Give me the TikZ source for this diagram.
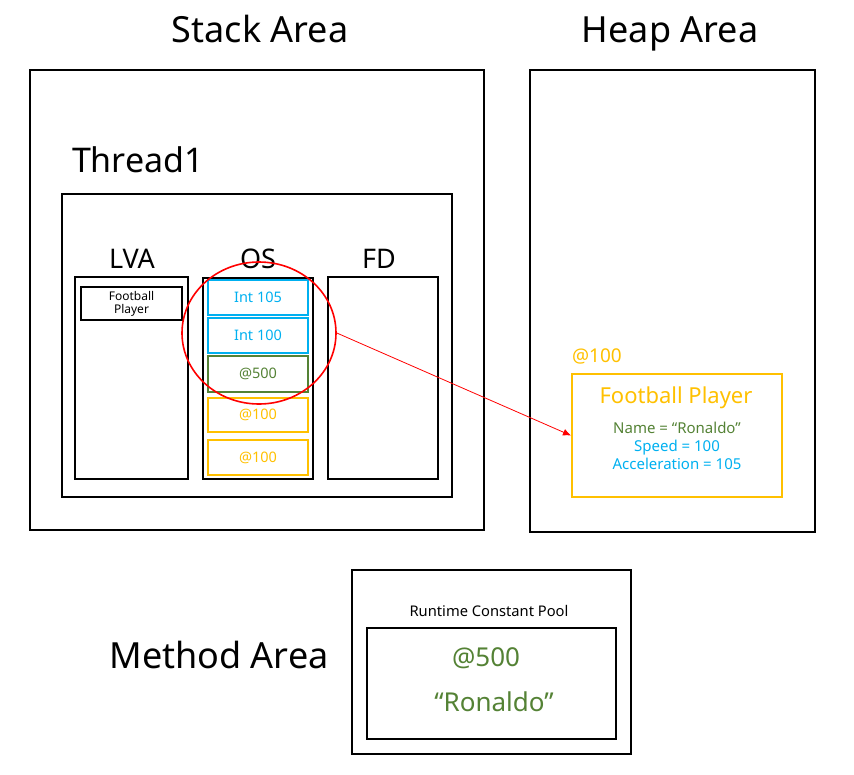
\documentclass[tikz,border=0pt]{standalone}
\usepackage{fontspec}
\setmainfont{Noto Sans}
\definecolor{cyanb}{HTML}{00B0F0}
\definecolor{greenb}{HTML}{548235}
\definecolor{orangeb}{HTML}{FFC000}
\usetikzlibrary{arrows.meta,shapes.geometric}
\begin{document}
\begin{tikzpicture}[x=1pt,y=-1pt,
  blk/.style={draw=black,line width=2pt,inner sep=0pt},
  cell/.style={draw,line width=2pt,minimum width=100pt,inner sep=0pt,font=\fontsize{14.5}{16}\selectfont},
  title/.style={inner sep=0pt,anchor=base,font=\fontsize{36}{40}\selectfont},
  sub/.style={inner sep=0pt,anchor=base,font=\fontsize{27}{30}\selectfont}]
\useasboundingbox (0,0) rectangle (854,774);
% Stack
\node[title] (stackT) at (260,42) {Stack Area};
\node[blk,minimum width=454pt,minimum height=460pt] (stack) at (257,300) {};
\node[title,font=\fontsize{34}{38}\selectfont] (thT) at (138,172) {Thread1};
\node[blk,minimum width=390pt,minimum height=303pt] (thread) at (257,345.5) {};
\node[sub] (lvaT) at (132,268) {LVA};
\node[blk,minimum width=113pt,minimum height=202pt] (lva) at (131.5,378) {};
\node[blk,minimum width=101pt,minimum height=33pt,align=center,font=\fontsize{12}{13}\selectfont] (fpS) at (131.5,303.5) {Football\\Player};
\node[sub] (osT) at (258,268) {OS};
\node[blk,minimum width=110pt,minimum height=201pt] (os) at (258,378.5) {};
\node[cell,draw=cyanb,text=cyanb,minimum height=35pt] (c1) at (258,297.5) {Int 105};
\node[cell,draw=cyanb,text=cyanb,minimum height=35pt] (c2) at (258,335.5) {Int 100};
\node[cell,draw=greenb,text=greenb,minimum height=36pt] (c3) at (258,374) {@500};
\node[cell,draw=orangeb,text=orangeb,minimum height=34pt] (c4) at (258,415) {@100};
\node[cell,draw=orangeb,text=orangeb,minimum height=35pt] (c5) at (258,457.5) {@100};
\node[sub] (fdT) at (379,268) {FD};
\node[blk,minimum width=110pt,minimum height=202pt] (fd) at (383,378) {};
\node[draw=red,line width=1.6pt,ellipse,minimum width=154pt,minimum height=142pt,inner sep=0pt] (circ) at (259,333) {};
% Heap
\node[title] (heapT) at (670,42) {Heap Area};
\node[blk,minimum width=285pt,minimum height=462pt] (heap) at (672.5,301) {};
\node[inner sep=0pt,text=orangeb,font=\fontsize{19}{22}\selectfont] (addr) at (597,356) {@100};
\node[draw=orangeb,line width=2pt,minimum width=210pt,minimum height=123pt,inner sep=0pt] (obj) at (677,435.5) {};
\node[inner sep=0pt,text=orangeb,font=\fontsize{22}{26}\selectfont] (objT) at (676,398) {Football Player};
\node[inner sep=0pt,align=center,font=\fontsize{15}{18}\selectfont] (objF) at (677,446) {\textcolor{greenb}{Name = “Ronaldo”}\\\textcolor{cyanb}{Speed = 100}\\\textcolor{cyanb}{Acceleration = 105}};
\draw[red,line width=0.8pt,-{Latex[length=8pt,width=7pt]}] (circ.east) -- (obj.west);
% Method
\node[title] (methT) at (219,668) {Method Area};
\node[blk,minimum width=279pt,minimum height=184pt] (meth) at (491.5,662) {};
\node[inner sep=0pt,font=\fontsize{14.7}{16}\selectfont] (rcpT) at (489,611) {Runtime Constant Pool};
\node[blk,minimum width=249pt,minimum height=111pt] (rcp) at (491.5,683.5) {};
\node[inner sep=0pt,text=greenb,font=\fontsize{26}{30}\selectfont] (r1) at (486,658) {@500};
\node[inner sep=0pt,text=greenb,font=\fontsize{26}{30}\selectfont] (r2) at (494,702) {“Ronaldo”};
\end{tikzpicture}
\end{document}
